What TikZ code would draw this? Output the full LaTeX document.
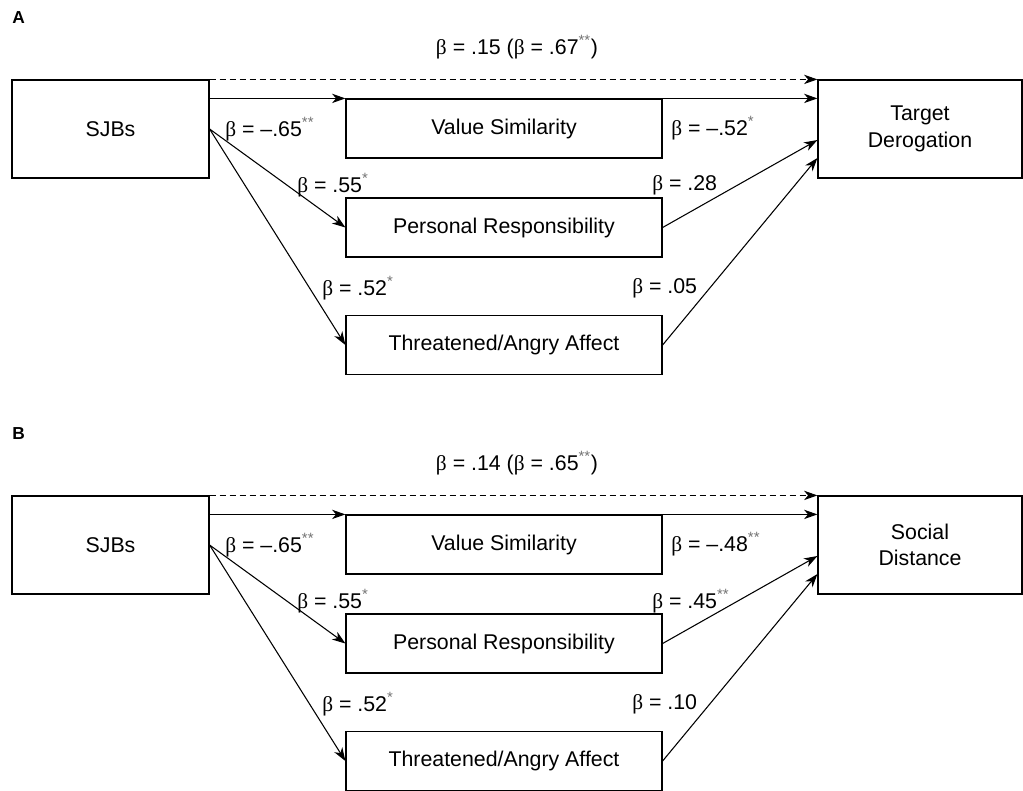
\documentclass[tikz,border=0pt]{standalone}
\usepackage{fontspec}
\setmainfont{Liberation Sans}
\newfontfamily\grk{Liberation Serif}
\usepackage{xcolor}
\usetikzlibrary{arrows.meta}

\newcommand{\bt}{{\grk β}}
\newcommand{\sig}[1]{\textsuperscript{\color{black!55}#1}}

\tikzset{
  box/.style={draw, line width=0.9pt, inner sep=0pt, align=center},
  midbox/.style={box, minimum width=237pt, minimum height=44.25pt},
  endbox/.style={box, minimum width=147.75pt, minimum height=73.5pt},
  arr/.style={line width=0.8pt, -{Stealth[length=10pt,width=7pt,inset=3pt]}},
  coef/.style={inner sep=0pt, anchor=west},
  panel/.style={inner sep=0pt, anchor=base west, font=\fontsize{13}{15}\selectfont\bfseries},
}

\begin{document}
\begin{tikzpicture}[x=0.75pt,y=0.75pt,yscale=-1,xscale=1, font=\fontsize{16}{20}\selectfont]
\useasboundingbox (0,0) rectangle (1023,790);
\clip (0,0) rectangle (1023,790);

%Panel A
\node[panel] (labA) at (12,23) {A};
%Boxes
\node[endbox] (sjbA) at (110.5,129) {SJBs};
\node[midbox] (vsA) at (504,128.5) {Value Similarity};
\node[midbox] (prA) at (504,227.5) {Personal Responsibility};
\node[midbox] (taA) at (504,345) {Threatened/Angry Affect};
\node[endbox, minimum width=153pt] (tdA) at (920,129) {Target\\Derogation};
%Paths
\draw[arr, dash pattern=on 4.5pt off 3pt] (sjbA.north east) -- (tdA.north west);
\draw[arr] (sjbA.east |- vsA.north) -- (vsA.north west);
\draw[arr] (vsA.north east) -- (tdA.west |- vsA.north);
\draw[arr] (sjbA.east) -- (prA.west);
\draw[arr] (sjbA.east) -- (taA.west);
\draw[arr] (prA.east) -- ([yshift=8.25pt]tdA.west);
\draw[arr] (taA.east) -- ([yshift=21.75pt]tdA.west);
% Text Node
\node[coef, anchor=center] (totA) at (517,47) {\bt{} = .15 (\bt{} = .67\sig{**})};
\node[coef] (vsinA) at (225,129) {\bt{} = –.65\sig{**}};
\node[coef] (vsoutA) at (671,128) {\bt{} = –.52\sig{*}};
\node[coef] (prinA) at (297,185) {\bt{} = .55\sig{*}};
\node[coef] (proutA) at (652,185) {\bt{} = .28};
\node[coef] (tainA) at (322,288) {\bt{} = .52\sig{*}};
\node[coef] (taoutA) at (632,288) {\bt{} = .05};

%Panel B
\node[panel] (labB) at (12,439) {B};
%Boxes
\node[endbox] (sjbB) at (110.5,545) {SJBs};
\node[midbox] (vsB) at (504,544.5) {Value Similarity};
\node[midbox] (prB) at (504,643.5) {Personal Responsibility};
\node[midbox] (taB) at (504,761) {Threatened/Angry Affect};
\node[endbox, minimum width=153pt] (sdB) at (920,545) {Social\\Distance};
%Paths
\draw[arr, dash pattern=on 4.5pt off 3pt] (sjbB.north east) -- (sdB.north west);
\draw[arr] (sjbB.east |- vsB.north) -- (vsB.north west);
\draw[arr] (vsB.north east) -- (sdB.west |- vsB.north);
\draw[arr] (sjbB.east) -- (prB.west);
\draw[arr] (sjbB.east) -- (taB.west);
\draw[arr] (prB.east) -- ([yshift=8.25pt]sdB.west);
\draw[arr] (taB.east) -- ([yshift=21.75pt]sdB.west);
% Text Node
\node[coef, anchor=center] (totB) at (517,463) {\bt{} = .14 (\bt{} = .65\sig{**})};
\node[coef] (vsinB) at (225,545) {\bt{} = –.65\sig{**}};
\node[coef] (vsoutB) at (671,544) {\bt{} = –.48\sig{**}};
\node[coef] (prinB) at (297,601) {\bt{} = .55\sig{*}};
\node[coef] (proutB) at (652,601) {\bt{} = .45\sig{**}};
\node[coef] (tainB) at (322,704) {\bt{} = .52\sig{*}};
\node[coef] (taoutB) at (632,704) {\bt{} = .10};
\end{tikzpicture}
\end{document}
